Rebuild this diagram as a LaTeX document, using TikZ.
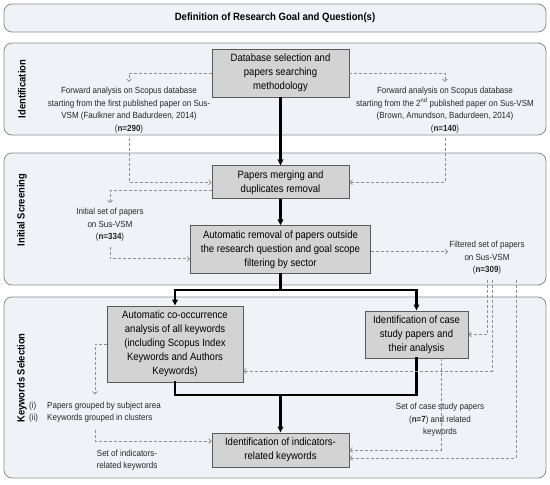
\documentclass[tikz,border=0pt]{standalone}
\usepackage{fontspec}
\setmainfont{Liberation Sans}[FakeStretch=0.9]
\usepackage{xcolor}
\definecolor{PanelFill}{HTML}{EFF3F7}
\definecolor{PanelLine}{HTML}{8C8C8C}
\definecolor{BoxFill}{HTML}{D3D3D3}
\definecolor{BoxLine}{HTML}{5A5A5A}
\definecolor{DashGray}{HTML}{8E8E8E}
\usepackage{tikz}
\usetikzlibrary{calc, arrows.meta, positioning}

\begin{document}
\begin{tikzpicture}[x=1pt, y=-1pt,
  panel/.style={draw=PanelLine, fill=PanelFill, rounded corners=8pt, line width=0.8pt},
  stage/.style={draw=BoxLine, fill=BoxFill, line width=0.9pt, align=center,
    inner sep=0pt, font=\fontsize{10.6}{14}\selectfont},
  note/.style={align=center, inner xsep=1pt, inner ysep=5pt, text=black!85,
    font=\fontsize{8.9}{12.5}\selectfont},
  phase/.style={rotate=90, font=\bfseries\fontsize{10.4}{12}\selectfont},
  thk/.style={line width=2.2pt, line cap=rect},
  arr/.style={line width=2.2pt, -{Triangle[length=6pt,width=5.5pt]}},
  dasharr/.style={draw=DashGray, line width=0.7pt, dash pattern=on 3pt off 2pt,
    -{Straight Barb[length=2.5pt,width=5pt]}}
]
\useasboundingbox (0,0) rectangle (550,485);

% phases
\node[panel, minimum width=542pt, minimum height=28pt,
  font=\bfseries\fontsize{10.6}{12}\selectfont] (goal) at (275,18)
  {Definition of Research Goal and Question(s)};
\draw[panel] (4,43) rectangle (546,135);
\draw[panel] (4,153) rectangle (546,285);
\draw[panel] (4,297) rectangle (546,478);
\node[phase] (lblident) at (22,89) {Identification};
\node[phase] (lblscreen) at (22,210) {Initial Screening};
\node[phase] (lblkeys) at (22,378) {Keywords Selection};

% process boxes
\node[stage, minimum width=137pt, minimum height=48pt] (dbsel) at (280.5,73)
  {Database selection and\\papers searching\\methodology};
\node[stage, minimum width=137pt, minimum height=33pt, below=68pt of dbsel] (merge)
  {Papers merging and\\duplicates removal};
\node[stage, minimum width=180pt, minimum height=48pt, below=26pt of merge] (filter)
  {Automatic removal of papers outside\\the research question and goal scope\\filtering by sector};
\node[stage, minimum width=136pt, minimum height=76pt] (cooc) at (175,344)
  {Automatic co-occurrence\\analysis of all keywords\\(including Scopus Index\\Keywords and Authors\\Keywords)};
\node[stage, minimum width=103pt, minimum height=47pt] (casest) at (416.5,334.5)
  {Identification of case\\study papers and\\their analysis};
\node[stage, minimum width=137pt, minimum height=34pt] (indic) at (280.5,450)
  {Identification of indicators-\\related keywords};

% outputs
\node[note] (fwd1) at (129,110)
  {Forward analysis on Scopus database\\starting from the first published paper on Sus-\\VSM (Faulkner and Badurdeen, 2014)\\(\textbf{n=290})};
\node[note] (fwd2) at (445,110)
  {Forward analysis on Scopus database\\starting from the 2\textsuperscript{nd} published paper on Sus-VSM\\(Brown, Amundson, Badurdeen, 2014)\\(\textbf{n=140})};
\node[note] (initset) at (110,225) {Initial set of papers\\on Sus-VSM\\(\textbf{n=334})};
\node[note] (filtset) at (487,258) {Filtered set of papers\\on Sus-VSM\\(\textbf{n=309})};
\node[note] (grouped) at (95,412)
  {\begin{tabular}{@{}p{18pt}@{}l@{}}(i) & Papers grouped by subject area\\(ii) & Keywords grouped in clusters\end{tabular}};
\node[note] (indset) at (127,460) {Set of indicators-\\related keywords};
\node[note] (caseset) at (440,420) {Set of case study papers\\(\textbf{n=7}) and related\\keywords};

\coordinate (split) at (280.5,290);
\coordinate (join) at (280.5,395);

% main flow
\draw[arr] (dbsel) -- (merge);
\draw[arr] (merge) -- (filter);
\draw[thk] (filter.south) -- (split);
\draw[arr] (split) -| (cooc.north);
\draw[arr] (split) -| (casest.north);
\draw[thk] (cooc.south) |- (join);
\draw[thk] (casest.south) |- (join);
\draw[arr] (join) -- (indic.north);

% data flow
\draw[dasharr] (dbsel.west) -| (fwd1.north);
\draw[dasharr] (dbsel.east) -| (fwd2.north);
\draw[dasharr] (fwd1.south) |- (merge.west);
\draw[dasharr] (fwd2.south) |- (merge.east);
\draw[dasharr] ([yshift=-8pt]merge.west) -| (initset.north);
\draw[dasharr] (initset.south) |- ([yshift=-9pt]filter.west);
\draw[dasharr] ([yshift=-2pt]filter.east) -- ([yshift=-2pt]filter.east -| filtset.west);
\draw[dasharr] (filtset.south) |- (casest.east);
\draw[dasharr] ([xshift=5pt]filtset.south) |- ([yshift=-27pt]cooc.east);
\draw[dasharr] ([xshift=29pt]filtset.south) |- ([yshift=-8pt]indic.east);
\draw[dasharr] ([xshift=24.5pt]casest.south) |- (indic.east);
\draw[dasharr] (cooc.west) -| (grouped.north);
\draw[dasharr] (grouped.south) |- ([yshift=9pt]indic.west);
\end{tikzpicture}
\end{document}
